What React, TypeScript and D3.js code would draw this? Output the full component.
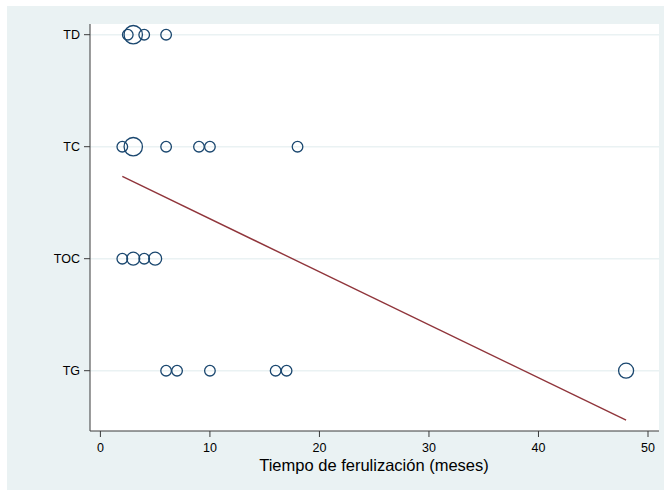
import React from "react";
import * as d3 from "d3";

// Splinting time (months) by group, with marker weights
const categories = ["TG", "TOC", "TC", "TD"];
const tdMonths = [2.5, 3, 4, 6];
const tdWeight = [1, 3, 1, 1];
const tcMonths = [2, 3, 6, 9, 10, 18];
const tcWeight = [1, 3, 1, 1, 1, 1];
const tocMonths = [2, 3, 4, 5];
const tocWeight = [1, 1.5, 1, 1.5];
const tgMonths = [6, 7, 10, 16, 17, 48];
const tgWeight = [1, 1, 1, 1, 1, 2];
const xTicks = [0, 10, 20, 30, 40, 50];
const xTitle = "Tiempo de ferulización (meses)";

const W = 664;
const H = 490;
const plot = { left: 90, right: 659, top: 24, bottom: 431 };

type Pt = { x: number; y: number; w: number };

const groups: [string, number[], number[]][] = [
  ["TD", tdMonths, tdWeight],
  ["TC", tcMonths, tcWeight],
  ["TOC", tocMonths, tocWeight],
  ["TG", tgMonths, tgWeight],
];

const points: Pt[] = groups.flatMap(([cat, xs, ws]) =>
  xs.map((x, i) => ({ x, y: categories.indexOf(cat) + 1, w: ws[i] }))
);

// Ordinary least squares fit of group code on months
function linearFit(pts: Pt[]) {
  const mx = d3.mean(pts, (p) => p.x)!;
  const my = d3.mean(pts, (p) => p.y)!;
  const sxy = d3.sum(pts, (p) => (p.x - mx) * (p.y - my));
  const sxx = d3.sum(pts, (p) => (p.x - mx) ** 2);
  const b = sxy / sxx;
  return { a: my - b * mx, b };
}

export default function App() {
  const x = d3.scaleLinear().domain([0, 50]).range([100.4, 648]);
  const y = d3.scaleLinear().domain([1, 4]).range([370.7, 34.7]);
  const r = (w: number) => 5.3 * Math.sqrt(w);

  const fit = linearFit(points);
  const [xmin, xmax] = d3.extent(points, (p) => p.x) as [number, number];
  const fitLine = d3
    .line<number>()
    .x((v) => x(v))
    .y((v) => y(fit.a + fit.b * v));

  const font = "'Liberation Sans', Arial, Helvetica, sans-serif";

  return (
    <svg
      width={W}
      height={H}
      style={{ position: "absolute", left: 0, top: 0, background: "#ffffff" }}
    >
      <rect x={7} y={6} width={W - 7} height={H - 6} fill="#eaf2f3" />
      <rect
        x={plot.left}
        y={plot.top}
        width={plot.right - plot.left}
        height={plot.bottom - plot.top}
        fill="#ffffff"
      />
      {/* horizontal grid */}
      {categories.map((c, i) => (
        <line
          key={"g" + c}
          x1={plot.left}
          x2={plot.right}
          y1={y(i + 1)}
          y2={y(i + 1)}
          stroke="#eaf2f3"
          strokeWidth={1.5}
        />
      ))}
      {/* fitted line */}
      <path
        d={fitLine([xmin, xmax]) || ""}
        fill="none"
        stroke="#90353b"
        strokeWidth={1.4}
      />
      {/* markers */}
      {points.map((p, i) => (
        <circle
          key={i}
          cx={x(p.x)}
          cy={y(p.y)}
          r={r(p.w)}
          fill="none"
          stroke="#1a476f"
          strokeWidth={1.3}
        />
      ))}
      {/* y axis */}
      <line
        x1={plot.left}
        x2={plot.left}
        y1={plot.top}
        y2={plot.bottom}
        stroke="#3a3a3a"
        strokeWidth={1}
      />
      {categories.map((c, i) => (
        <g key={"y" + c}>
          <line
            x1={plot.left - 6}
            x2={plot.left}
            y1={y(i + 1)}
            y2={y(i + 1)}
            stroke="#3a3a3a"
            strokeWidth={1}
          />
          <text
            x={plot.left - 10}
            y={y(i + 1)}
            dy="0.35em"
            textAnchor="end"
            fontFamily={font}
            fontSize={12.5}
            fill="#000"
          >
            {c}
          </text>
        </g>
      ))}
      {/* x axis */}
      <line
        x1={plot.left}
        x2={plot.right}
        y1={plot.bottom}
        y2={plot.bottom}
        stroke="#3a3a3a"
        strokeWidth={1}
      />
      {xTicks.map((t) => (
        <g key={"x" + t}>
          <line
            x1={x(t)}
            x2={x(t)}
            y1={plot.bottom}
            y2={plot.bottom + 6}
            stroke="#3a3a3a"
            strokeWidth={1}
          />
          <text
            x={x(t)}
            y={plot.bottom + 20.5}
            textAnchor="middle"
            fontFamily={font}
            fontSize={12.5}
            fill="#000"
          >
            {t}
          </text>
        </g>
      ))}
      <text
        x={374}
        y={plot.bottom + 40}
        textAnchor="middle"
        fontFamily={font}
        fontSize={16.5}
        fill="#000"
      >
        {xTitle}
      </text>
    </svg>
  );
}
